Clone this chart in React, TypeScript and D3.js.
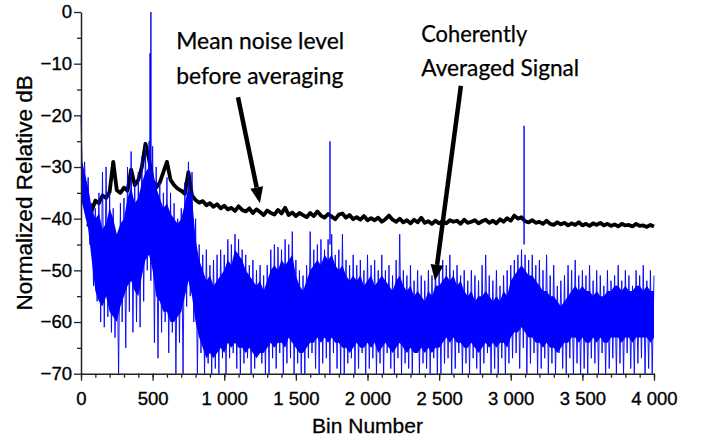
import React, { useRef, useEffect } from "react";
import * as d3 from "d3";

// axis ticks
const xTicks = [0, 500, 1000, 1500, 2000, 2500, 3000, 3500, 4000];
const yTicks = [0, -10, -20, -30, -40, -50, -60, -70];

// mean noise level before averaging (every 25 bins from bin 50)
const blackBins = d3.range(50, 4001, 25);
const blackLevel = [
  -41.5, -38.5, -36.5, -37, -35.5, -36, -34.8, -29, -34.5, -35, -34, -34.6, -30.5, -33.5, -32.5, -30, -25.5, -28.5, -32.5, -34,
  -33, -31, -29, -32.5, -33.5, -34.2, -34.6, -35.2, -31, -35.5, -36.4, -36.9, -36.6, -37.4, -37, -37.7, -37.2, -38, -37.5, -38.2,
  -37.9, -38.5, -37.6, -38.3, -38.6, -38, -38.9, -38.2, -38.7, -39.3, -38.4, -38.9, -39.2, -38.3, -39, -37.9, -39.3, -38.8, -39.5, -38.9,
  -39.3, -39.7, -38.9, -39.5, -38.6, -39.4, -39.8, -39.1, -39.6, -40.1, -39.2, -39, -39.8, -39.3, -40.1, -39.7, -40.2, -39.5, -40.3, -39.9,
  -40.3, -39.8, -40.6, -40.1, -39.4, -40.2, -40.6, -40, -40.7, -40.3, -40.9, -40.2, -40.7, -39.8, -40.8, -40.5, -41, -40.4, -40.9, -40.5,
  -40.9, -40.3, -40.6, -40.4, -41, -40.2, -40.8, -40.6, -40.3, -40.9, -40.5, -40.2, -40.8, -40.4, -40.9, -40.1, -40.6, -39.9, -40.4, -39.4,
  -40, -39.7, -40.5, -40.7, -40.3, -40.8, -40.6, -41, -40.4, -41, -41.2, -40.7, -41.1, -40.8, -41.3, -40.9, -41.2, -40.7, -41.3, -41,
  -41.4, -40.9, -41.2, -40.8, -41.3, -41, -41.4, -41.1, -41.5, -41, -41.3, -41.2, -41.5, -41, -41.4, -41.3, -41.6, -41.2, -41.5,
];

// coherently averaged signal, sampled every 25 bins
const sigBins = d3.range(0, 4001, 25);
// dense part of the band
const coreHi = [
  -28, -31, -34, -38, -40, -39, -42, -41, -38, -40, -43, -41, -40, -36, -34, -37, -36, -33, -31, -30,
  -31, -34, -36, -38, -37, -39, -40, -41, -40, -37, -34, -36, -44, -48, -50, -52, -51, -53, -52, -51,
  -50, -48, -49, -46, -47, -48, -50, -51, -52, -53, -52, -54, -52, -50, -49, -50, -48, -49, -48, -47,
  -51, -53, -54, -52, -50, -49, -48, -49, -47, -48, -47, -49, -50, -49, -51, -52, -51, -52, -51, -53,
  -52, -51, -53, -52, -51, -52, -53, -54, -52, -51, -53, -54, -53, -55, -54, -55, -56, -54, -55, -53,
  -53, -52, -51, -52, -51, -53, -52, -54, -55, -54, -56, -55, -55, -54, -55, -56, -55, -56, -54, -55,
  -52, -51, -50, -49, -50, -51, -51, -52, -53, -54, -54, -55, -55, -56, -57, -56, -55, -54, -53, -54,
  -53, -54, -54, -55, -54, -55, -55, -54, -54, -53, -53, -54, -53, -54, -54, -53, -53, -54, -53, -54,
  -54,
];
const coreLo = [
  -36, -39, -42, -48, -54, -56, -57, -55, -58, -59, -60, -57, -55, -53, -52, -54, -55, -51, -48, -47,
  -50, -55, -56, -58, -58, -60, -60, -59, -58, -55, -52, -55, -60, -63, -65, -67, -66, -67, -66, -65,
  -66, -64, -65, -64, -65, -65, -66, -65, -66, -67, -66, -66, -65, -64, -65, -64, -64, -65, -63, -64,
  -65, -66, -66, -65, -64, -64, -63, -64, -63, -64, -63, -64, -64, -65, -65, -66, -65, -64, -65, -65,
  -64, -65, -64, -66, -65, -64, -65, -66, -65, -64, -65, -66, -65, -66, -66, -65, -66, -65, -66, -65,
  -65, -64, -63, -64, -63, -64, -64, -65, -65, -64, -65, -66, -65, -64, -65, -64, -65, -64, -64, -65,
  -63, -62, -62, -61, -62, -63, -63, -64, -64, -65, -64, -65, -65, -66, -65, -64, -64, -63, -63, -64,
  -63, -64, -64, -63, -64, -63, -64, -64, -63, -63, -63, -64, -63, -63, -64, -63, -63, -63, -63, -64,
  -63,
];
// extremes of the band: peaks read at each sample, dips read half a sample later
const blueHi = [
  -20, -29, -32, -37, -38, -35, -31, -30, -35, -38, -44, -37, -36, -30, -27, -33, -31, -28, -26, -25,
  -26, -30, -33, -35, -32, -35, -37, -40, -38, -33, -29, -31, -40, -45, -47, -46, -49, -48, -47, -46,
  -47, -44, -45, -43, -44, -46, -47, -49, -48, -50, -49, -51, -49, -46, -45, -45.5, -46, -44, -45, -42.5,
  -48, -50, -51, -49, -42.5, -46, -45, -44, -46, -44, -43, -47, -46, -43, -48, -49, -47, -49, -48, -50,
  -47, -49, -48, -50, -47, -50, -49, -51, -48, -43, -50, -51, -49, -52, -50, -51, -52, -50, -51, -49,
  -50, -48, -49, -47, -50, -49, -51, -50, -52, -50, -51, -52, -49, -47, -51, -52, -50, -53, -51, -50,
  -49, -48, -47, -46, -47, -48, -47, -49, -48, -50, -47, -51, -49, -53, -52, -51, -49, -50, -48, -51,
  -50, -51, -49, -52, -50, -51, -53, -50, -52, -51, -49, -52, -50, -51, -53, -50, -51, -49, -52, -50,
  -51,
];
const blueLo = [
  -36, -40, -45, -53, -56, -60, -61, -59, -62, -63, -70, -60, -65, -58, -62, -60, -61, -56, -50, -52,
  -64, -67, -62, -60, -66, -62, -70, -64, -70, -57, -55, -60, -70, -66, -70, -68, -70, -69, -70, -67,
  -70, -67, -66, -69, -70, -68, -67, -70, -69, -66, -68, -70, -70, -67, -69, -66, -70, -68, -67, -70,
  -68, -70, -70, -67, -66, -69, -70, -68, -67, -70, -66, -69, -70, -70, -68, -67, -70, -69, -66, -70,
  -69, -67, -70, -68, -70, -66, -69, -70, -67, -70, -68, -69, -70, -66, -70, -68, -69, -70, -67, -70,
  -70, -68, -67, -70, -69, -66, -70, -68, -70, -67, -69, -70, -68, -66, -70, -69, -70, -67, -70, -68,
  -67, -66, -69, -65, -70, -68, -66, -70, -69, -67, -70, -68, -70, -66, -69, -70, -67, -70, -68, -70,
  -69, -70, -67, -68, -70, -66, -70, -69, -67, -70, -68, -70, -66, -69, -70, -68, -67, -70, -69, -70,
  -67,
];

// tall tones
const toneBins = [482, 488, 1738, 3093];
const toneTops = [-8, 0, -25, -22];

// annotations (data units)
const notes = [
  { lines: ["Mean noise level", "before averaging"], widths: [168, 167], bin: 665, db: -7.2 },
  { lines: ["Coherently", "Averaged Signal"], widths: [106, 158], bin: 2375, db: -5.8 },
];
const arrows = [
  { from: [1096, -16.5], to: [1249, -37] },
  { from: [2652, -14.3], to: [2471, -52] },
];

const App = () => {
  const svgRef = useRef<SVGSVGElement>(null);

  useEffect(() => {
    const width = 701;
    const height = 443;
    const svg = d3.select(svgRef.current).attr("width", width).attr("height", height);
    svg.selectAll("*").remove();

    const x = d3.scaleLinear().domain([0, 4000]).range([81, 654]);
    const y = d3.scaleLinear().domain([-70, 0]).range([373.7, 12]);

    const axisFont = "Arial, 'Liberation Sans', sans-serif";

    // mean noise level
    svg
      .append("path")
      .datum(blackLevel)
      .attr("fill", "none")
      .attr("stroke", "#000")
      .attr("stroke-width", 3.8)
      .attr("stroke-linejoin", "round")
      .attr(
        "d",
        d3
          .line<number>()
          .x((d, i) => x(blackBins[i]))
          .y((d) => y(d))
      );

    // averaged signal: dense core
    svg
      .append("path")
      .datum(coreHi)
      .attr("fill", "#0000ff")
      .attr(
        "d",
        d3
          .area<number>()
          .x((d, i) => x(sigBins[i]))
          .y0((d, i) => y(coreLo[i]))
          .y1((d) => y(d))
      );

    // averaged signal: extremes as a peak/dip trace
    const trace: [number, number][] = [];
    sigBins.forEach((b, i) => {
      trace.push([x(b), y(blueHi[i])]);
      if (i < sigBins.length - 1) trace.push([x(b + 12.5), y(blueLo[i])]);
    });
    svg
      .append("path")
      .attr("stroke", "#0000ff")
      .attr("stroke-width", 0.9)
      .attr("fill", "none")
      .attr("d", d3.line()(trace));

    svg
      .append("path")
      .attr("stroke", "#0000ff")
      .attr("stroke-width", 1.4)
      .attr("fill", "none")
      .attr("d", toneBins.map((b, i) => `M${x(b)},${y(toneTops[i])}V${y(-45)}`).join(""));

    // axes
    const fmtX = d3.formatLocale({ decimal: ".", thousands: " ", grouping: [3], currency: ["", ""] }).format(",");

    const gx = svg.append("g").attr("transform", `translate(0,${y(-70)})`);
    gx.call(d3.axisBottom(x).tickValues(d3.range(0, 4001, 100)).tickSize(4).tickFormat(() => "").tickSizeOuter(0));
    gx.call((g) => g.selectAll(".domain").remove());
    const gx2 = svg.append("g").attr("transform", `translate(0,${y(-70)})`);
    gx2.call(
      d3.axisBottom(x).tickValues(xTicks).tickSize(7).tickPadding(11).tickSizeOuter(0).tickFormat((d) => fmtX(d as number))
    );

    const gy = svg.append("g").attr("transform", `translate(${x(0)},0)`);
    gy.call(d3.axisLeft(y).tickValues(d3.range(-65, 0, 10)).tickSize(4).tickFormat(() => "").tickSizeOuter(0));
    gy.call((g) => g.selectAll(".domain").remove());
    const gy2 = svg.append("g").attr("transform", `translate(${x(0)},0)`);
    gy2.call(d3.axisLeft(y).tickValues(yTicks).tickSize(7).tickPadding(2).tickSizeOuter(0));

    svg.selectAll(".domain").attr("stroke", "#222").attr("stroke-width", 1.5);
    svg.selectAll(".tick line").attr("stroke", "#222").attr("stroke-width", 1.3);
    svg
      .selectAll(".tick text")
      .attr("fill", "#000")
      .attr("stroke", "#000")
      .attr("stroke-width", 0.35)
      .style("font-family", axisFont)
      .style("font-size", "18.5px");

    svg
      .append("text")
      .attr("x", (x(0) + x(4000)) / 2)
      .attr("y", 433)
      .attr("text-anchor", "middle")
      .attr("stroke", "#000")
      .attr("stroke-width", 0.3)
      .style("font-family", axisFont)
      .style("font-size", "21px")
      .text("Bin Number");

    svg
      .append("text")
      .attr("transform", `translate(32,${(y(0) + y(-70)) / 2}) rotate(-90)`)
      .attr("text-anchor", "middle")
      .attr("stroke", "#000")
      .attr("stroke-width", 0.3)
      .style("font-family", axisFont)
      .style("font-size", "22.5px")
      .text("Normalized Relative dB");

    // annotations
    notes.forEach((n) => {
      n.lines.forEach((t, j) => {
        svg
          .append("text")
          .attr("x", x(n.bin))
          .attr("y", y(n.db) + j * 34.5)
          .attr("textLength", n.widths[j])
          .attr("lengthAdjust", "spacingAndGlyphs")
          .attr("stroke", "#000")
          .attr("stroke-width", 0.25)
          .style("font-family", "Lato, 'Open Sans', sans-serif")
          .style("font-size", "23px")
          .text(t);
      });
    });

    arrows.forEach((a) => {
      const x0 = x(a.from[0]);
      const y0 = y(a.from[1]);
      const x1 = x(a.to[0]);
      const y1 = y(a.to[1]);
      const len = Math.hypot(x1 - x0, y1 - y0);
      const ux = (x1 - x0) / len;
      const uy = (y1 - y0) / len;
      const bx = x1 - ux * 16;
      const by = y1 - uy * 16;
      svg
        .append("line")
        .attr("x1", x0)
        .attr("y1", y0)
        .attr("x2", bx)
        .attr("y2", by)
        .attr("stroke", "#000")
        .attr("stroke-width", 4.5);
      svg
        .append("polygon")
        .attr(
          "points",
          [
            [x1, y1],
            [bx - uy * 6.5, by + ux * 6.5],
            [bx + uy * 6.5, by - ux * 6.5],
          ]
            .map((p) => p.join(","))
            .join(" ")
        )
        .attr("fill", "#000");
    });
  }, []);

  return (
    <svg
      ref={svgRef}
      style={{ position: "absolute", left: 0, top: 0, display: "block", background: "#fff" }}
    ></svg>
  );
};

export default App;
